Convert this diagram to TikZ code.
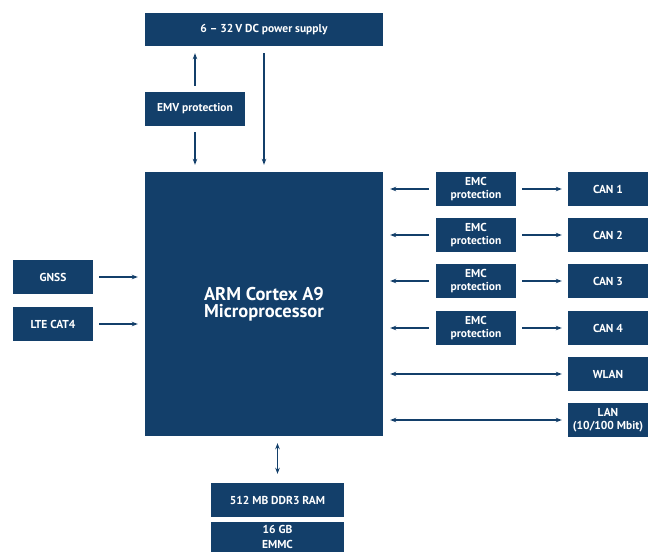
\documentclass[tikz,border=0pt]{standalone}
\usepackage{fontspec}
\setmainfont{PT Sans}
\usetikzlibrary{arrows.meta}
\definecolor{dblue}{HTML}{133F6A}
\begin{document}
\begin{tikzpicture}[x=1pt,y=-1pt,
  blk/.style={fill=dblue,text=white,font=\bfseries\fontsize{11.5}{13.3}\selectfont,align=center,inner sep=0pt,draw=none},
  conn/.style={draw=dblue,line width=1.1pt,-{Stealth[length=6pt,width=4.5pt]}},
  bconn/.style={draw=dblue,line width=1.1pt,{Stealth[length=6pt,width=4.5pt]}-{Stealth[length=6pt,width=4.5pt]}}]
\useasboundingbox (0,0) rectangle (657,552);
\clip (0,0) rectangle (657,552);
\node[blk,minimum width=238pt,minimum height=33pt] (psu) at (264,29.5) {6 -- 32\,V DC power supply};
\node[blk,minimum width=100pt,minimum height=34pt] (emv) at (195,109) {EMV protection};
\node[blk,minimum width=238pt,minimum height=264pt,font=\bfseries\fontsize{18.5}{17.5}\selectfont] (cpu) at (264,304) {ARM Cortex A9\\Microprocessor};
\foreach \i/\y in {1/189,2/235,3/281,4/328}{
  \node[blk,minimum width=80pt,minimum height=34pt] (emc\i) at (476,\y) {EMC\\protection};
  \node[blk,minimum width=80pt,minimum height=34pt] (can\i) at (608,\y) {CAN \i};
}
\node[blk,minimum width=80pt,minimum height=34pt] (wlan) at (608,374) {WLAN};
\node[blk,minimum width=80pt,minimum height=34pt] (lan) at (608,420) {LAN\\(10/100 Mbit)};
\node[blk,minimum width=80pt,minimum height=34pt] (gnss) at (53,277) {GNSS};
\node[blk,minimum width=80pt,minimum height=34pt] (lte) at (53,324) {LTE CAT4};
\node[blk,minimum width=133pt,minimum height=34pt] (ram) at (277.5,500) {512 MB DDR3 RAM};
\node[blk,minimum width=133pt,minimum height=30pt,anchor=north,font=\bfseries\fontsize{11.5}{14.5}\selectfont] (emmc) at (277.5,522) {16 GB\\EMMC};
% connectors
\draw[conn,shorten <=6pt,shorten >=7pt] (emv.north) -- (emv.north |- psu.south);
\draw[conn,shorten <=6pt,shorten >=7pt] (emv.south) -- (emv.south |- cpu.north);
\draw[conn,shorten <=7pt,shorten >=7pt] (psu.south) -- (cpu.north);
\foreach \i in {1,2,3,4}{
  \draw[conn,shorten <=7pt,shorten >=7pt] (emc\i.west) -- (emc\i.west -| cpu.east);
  \draw[conn,shorten <=6pt,shorten >=6pt] (emc\i.east) -- (can\i.west);
}
\draw[bconn,shorten <=7pt,shorten >=6pt] (wlan.west -| cpu.east) -- (wlan.west);
\draw[bconn,shorten <=7pt,shorten >=6pt] (lan.west -| cpu.east) -- (lan.west);
\draw[conn,shorten <=6pt,shorten >=7pt] (gnss.east) -- (gnss.east -| cpu.west);
\draw[conn,shorten <=6pt,shorten >=7pt] (lte.east) -- (lte.east -| cpu.west);
\draw[bconn,shorten <=7pt,shorten >=9pt] (ram.north |- cpu.south) -- (ram.north);
\end{tikzpicture}
\end{document}
